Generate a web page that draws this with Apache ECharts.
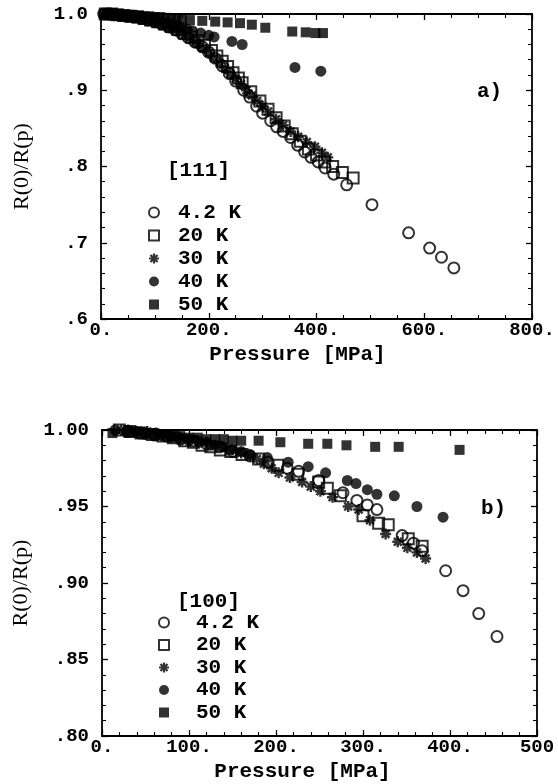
<!DOCTYPE html>
<html><head><meta charset="utf-8">
<script src="https://cdn.jsdelivr.net/npm/echarts@6/dist/echarts.min.js"></script>
<style>html,body{margin:0;padding:0;background:#fff}#c{width:558px;height:784px}</style>
</head><body><div id="c"></div><script>
// ---------- names / ticks ----------
const seriesNames = ['4.2 K', '20 K', '30 K', '40 K', '50 K'];
const topXTickValues = [0, 200, 400, 600, 800];
const topXTickLabels = ['0.', '200.', '400.', '600.', '800.'];
const topYTickValues = [0.6, 0.7, 0.8, 0.9, 1.0];
const topYTickLabels = ['.6', '.7', '.8', '.9', '1.0'];
const botXTickValues = [0, 100, 200, 300, 400, 500];
const botXTickLabels = ['0.', '100.', '200.', '300.', '400.', '500'];
const botYTickValues = [0.80, 0.85, 0.90, 0.95, 1.00];
const botYTickLabels = ['.80', '.85', '.90', '.95', '1.00'];

// ---------- panel a) [111] ----------
const a_4K = [[5,1.0],[15,1.0],[25,0.999],[38,0.998],[50,0.997],[62,0.996],[75,0.994],[88,0.992],[100,0.990],[112,0.987],[125,0.983],[138,0.979],[150,0.974],[162,0.969],[175,0.963],[188,0.957],[200,0.950],[212,0.942],[225,0.932],[238,0.922],[250,0.912],[265,0.900],[276,0.891],[289,0.879],[300,0.870],[315,0.860],[326,0.852],[338,0.846],[352,0.838],[365,0.828],[378,0.819],[390,0.812],[403,0.806],[416,0.798],[432,0.790],[456,0.776],[503,0.750],[571,0.713],[610,0.693],[632,0.681],[655,0.667]];
const a_20K = [[8,1.0],[20,1.0],[30,0.999],[42,0.998],[55,0.997],[68,0.996],[80,0.994],[92,0.992],[105,0.990],[118,0.987],[130,0.984],[142,0.980],[155,0.975],[168,0.970],[180,0.965],[192,0.959],[205,0.952],[215,0.945],[225,0.938],[235,0.931],[245,0.923],[255,0.916],[262,0.910],[278,0.898],[295,0.886],[310,0.875],[325,0.864],[340,0.853],[355,0.843],[370,0.833],[385,0.823],[400,0.815],[415,0.806],[430,0.800],[448,0.792],[468,0.785]];
const a_30K = [[10,1.0],[20,1.0],[30,0.999],[40,0.998],[50,0.997],[60,0.996],[70,0.995],[80,0.994],[90,0.992],[100,0.990],[110,0.988],[120,0.985],[130,0.982],[140,0.979],[150,0.975],[160,0.971],[170,0.966],[180,0.961],[190,0.955],[200,0.949],[210,0.943],[220,0.936],[230,0.929],[240,0.922],[250,0.915],[260,0.908],[270,0.900],[280,0.893],[290,0.886],[300,0.879],[310,0.872],[325,0.862],[338,0.854],[352,0.846],[366,0.839],[382,0.832],[397,0.826],[410,0.818],[421,0.812]];
const a_40K = [[10,1.0],[20,1.0],[30,0.999],[40,0.999],[50,0.998],[60,0.997],[70,0.996],[80,0.995],[90,0.993],[100,0.992],[110,0.990],[120,0.988],[130,0.986],[140,0.984],[150,0.982],[160,0.980],[170,0.978],[185,0.975],[200,0.972],[210,0.970],[243,0.964],[262,0.960],[360,0.930],[408,0.925]];
const a_50K = [[5,1.0],[15,0.999],[22,1.0],[30,0.999],[38,0.999],[45,0.998],[52,0.999],[60,0.998],[70,0.998],[80,0.997],[90,0.997],[100,0.996],[110,0.996],[120,0.995],[130,0.994],[140,0.993],[150,0.993],[165,0.992],[188,0.991],[212,0.990],[235,0.989],[258,0.988],[280,0.986],[305,0.982],[355,0.977],[380,0.976],[398,0.975],[412,0.975]];

// ---------- panel b) [100] ----------
const b_4K = [[30,0.999],[45,0.998],[60,0.997],[75,0.996],[90,0.994],[105,0.993],[120,0.991],[135,0.989],[150,0.986],[170,0.983],[191,0.979],[213,0.975],[226,0.973],[249,0.967],[277,0.959],[293,0.954],[305,0.951],[316,0.948],[345,0.931],[358,0.926],[368,0.921],[395,0.908],[415,0.895],[433,0.880],[454,0.865]];
const b_20K = [[20,1.0],[32,0.999],[45,0.998],[58,0.997],[70,0.996],[82,0.995],[95,0.993],[105,0.992],[115,0.990],[125,0.989],[136,0.987],[148,0.986],[161,0.984],[180,0.981],[202,0.977],[225,0.971],[249,0.966],[259,0.962],[274,0.957],[300,0.944],[318,0.939],[329,0.938],[352,0.929],[368,0.924]];
const b_30K = [[22,1.0],[30,1.0],[40,0.999],[52,0.999],[62,0.998],[70,0.997],[80,0.996],[90,0.995],[100,0.994],[110,0.993],[120,0.992],[130,0.990],[140,0.989],[150,0.987],[160,0.985],[170,0.983],[178,0.981],[186,0.978],[195,0.975],[203,0.972],[216,0.969],[230,0.966],[240,0.963],[251,0.960],[265,0.956],[283,0.950],[295,0.948],[308,0.941],[326,0.932],[340,0.927],[351,0.923],[362,0.920],[372,0.916]];
const b_40K = [[15,1.0],[28,0.999],[40,0.998],[50,0.997],[60,0.996],[70,0.996],[80,0.995],[90,0.994],[100,0.993],[112,0.992],[125,0.990],[137,0.989],[148,0.987],[160,0.986],[170,0.984],[190,0.982],[214,0.979],[237,0.976],[257,0.972],[282,0.967],[292,0.965],[305,0.961],[316,0.958],[336,0.957],[362,0.950],[392,0.943]];
const b_50K = [[12,0.998],[30,0.999],[40,0.999],[50,0.998],[60,0.997],[70,0.997],[80,0.996],[90,0.996],[100,0.995],[110,0.995],[120,0.994],[130,0.994],[140,0.994],[150,0.993],[160,0.993],[180,0.993],[205,0.992],[237,0.991],[259,0.991],[281,0.990],[314,0.989],[341,0.989],[411,0.987]];

// ---------- styling ----------
const MONO = 'Liberation Mono';
const SERIF = 'Liberation Serif';
const ASTERISK = 'path://M-1.1,-5L1.1,-5L1.1,5L-1.1,5Z M-5,-1.1L5,-1.1L5,1.1L-5,1.1Z M-2.76,-4.31L4.31,2.76L2.76,4.31L-4.31,-2.76Z M-4.31,2.76L2.76,-4.31L4.31,-2.76L-2.76,4.31Z';
const styles = [
  {symbol:'circle', symbolSize:11, itemStyle:{color:'rgba(255,255,255,0)', borderColor:'#000', borderWidth:2}},
  {symbol:'rect', symbolSize:11, itemStyle:{color:'rgba(255,255,255,0)', borderColor:'#000', borderWidth:2}},
  {symbol:ASTERISK, symbolSize:11, itemStyle:{color:'#000'}},
  {symbol:'circle', symbolSize:11, itemStyle:{color:'#000'}},
  {symbol:'rect', symbolSize:10, itemStyle:{color:'#000'}}
];

function fmt(vals, labs) {
  return function (v) {
    for (let i = 0; i < vals.length; i++) if (Math.abs(vals[i] - v) < 1e-6) return labs[i];
    return '';
  };
}
const axisLine = {show:true, onZero:false, lineStyle:{color:'#000', width:1.8}};
const tick = {show:true, inside:true, length:6, lineStyle:{color:'#000', width:1.3}};
function minor(n){ return {show:true, splitNumber:n, length:4, lineStyle:{color:'#000', width:1.1}}; }
const noSplit = {show:false};

function xAx(grid, min, max, interval, ms, vals, labs, isMain, name, padRight) {
  return {
    type:'value', gridIndex:grid, min:min, max:max, interval:interval,
    position: isMain ? 'bottom' : 'top',
    axisLine:axisLine, axisTick:tick, minorTick:minor(ms), splitLine:noSplit,
    axisLabel: isMain ? {show:true, margin:2, color:'#000', fontFamily:MONO, fontWeight:'bold', fontSize:19, formatter:fmt(vals, labs)} : {show:false},
    name: isMain ? name : '', nameLocation:'middle', nameGap:25,
    nameTextStyle:{color:'#000', fontFamily:MONO, fontWeight:'bold', fontSize:21, verticalAlign:'top', padding:[0, padRight, 0, 0]}
  };
}
function yAx(grid, min, max, interval, ms, vals, labs, isMain) {
  return {
    type:'value', gridIndex:grid, min:min, max:max, interval:interval,
    position: isMain ? 'left' : 'right',
    axisLine:axisLine, axisTick:tick, minorTick:minor(ms), splitLine:noSplit,
    axisLabel: isMain ? {show:true, margin:13, color:'#000', fontFamily:MONO, fontWeight:'bold', fontSize:19, formatter:fmt(vals, labs)} : {show:false},
    name: isMain ? 'R(0)/R(p)' : '', nameLocation:'middle', nameGap:68, nameRotate:90,
    nameTextStyle:{color:'#000', fontFamily:SERIF, fontSize:22}
  };
}

const dataA = [a_4K, a_20K, a_30K, a_40K, a_50K];
const dataB = [b_4K, b_20K, b_30K, b_40K, b_50K];
const series = [];
seriesNames.forEach((n, i) => {
  series.push(Object.assign({type:'scatter', name:n, xAxisIndex:0, yAxisIndex:0, data:dataA[i]}, styles[i]));
  series.push(Object.assign({type:'scatter', name:n, xAxisIndex:2, yAxisIndex:2, data:dataB[i]}, styles[i]));
});

const legendBase = {data:seriesNames, orient:'vertical', padding:0, itemWidth:10, itemHeight:10, selectedMode:false};
const legendText = {color:'#000', fontFamily:MONO, fontWeight:'bold', fontSize:21, lineHeight:21};
const option = {
  animation:false,
  backgroundColor:'#fff',
  grid:[{left:101, top:14, width:431, height:305}, {left:102, top:430, width:435, height:306}],
  xAxis:[
    xAx(0, 0, 800, 200, 4, topXTickValues, topXTickLabels, true, 'Pressure [MPa]', 38),
    xAx(0, 0, 800, 200, 4, topXTickValues, topXTickLabels, false, '', 0),
    xAx(1, 0, 500, 100, 5, botXTickValues, botXTickLabels, true, 'Pressure [MPa]', 34),
    xAx(1, 0, 500, 100, 5, botXTickValues, botXTickLabels, false, '', 0)
  ],
  yAxis:[
    yAx(0, 0.6, 1.0, 0.1, 5, topYTickValues, topYTickLabels, true),
    yAx(0, 0.6, 1.0, 0.1, 5, topYTickValues, topYTickLabels, false),
    yAx(1, 0.8, 1.0, 0.05, 5, botYTickValues, botYTickLabels, true),
    yAx(1, 0.8, 1.0, 0.05, 5, botYTickValues, botYTickLabels, false)
  ],
  legend:[
    Object.assign({}, legendBase, {left:148, top:202, itemGap:2, textStyle:Object.assign({padding:[0,0,0,14]}, legendText)}),
    Object.assign({}, legendBase, {left:158, top:612, itemGap:1.5, textStyle:Object.assign({padding:[0,0,0,22]}, legendText)})
  ],
  graphic:[
    {type:'text', left:167, top:160, style:{text:'[111]', font:'bold 21px "Liberation Mono"', fill:'#000'}},
    {type:'text', left:177, top:591, style:{text:'[100]', font:'bold 21px "Liberation Mono"', fill:'#000'}},
    {type:'text', left:477, top:81, style:{text:'a)', font:'bold 21px "Liberation Mono"', fill:'#000'}},
    {type:'text', left:481, top:498, style:{text:'b)', font:'bold 21px "Liberation Mono"', fill:'#000'}}
  ],
  series:series
};
const chart = echarts.init(document.getElementById('c'), null, {renderer:'canvas'});
chart.setOption(option);
</script></body></html>
